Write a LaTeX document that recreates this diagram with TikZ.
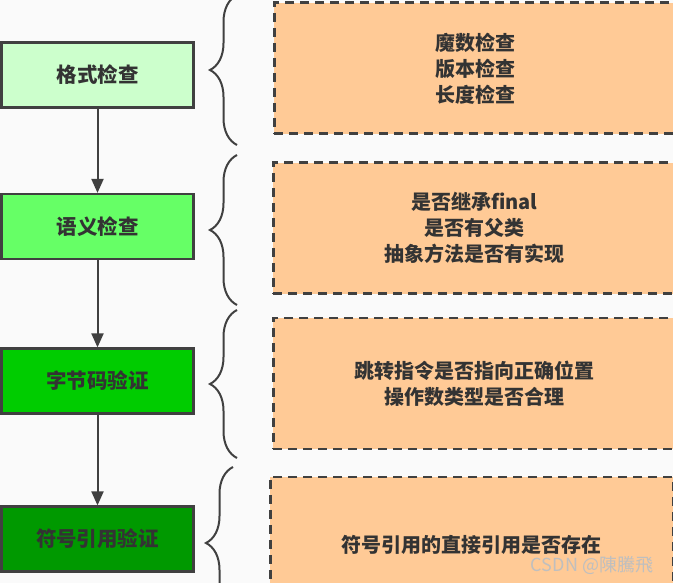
\documentclass[tikz,border=0pt]{standalone}
\usepackage{fontspec}
\setmainfont{Noto Sans CJK SC}
\usetikzlibrary{arrows.meta, decorations.pathreplacing}
\definecolor{linegray}{HTML}{404040}
\definecolor{textgray}{HTML}{333333}
\definecolor{notefill}{HTML}{FFCA96}
\definecolor{bgpaper}{HTML}{FAFAFA}
\definecolor{greenA}{HTML}{CCFFCC}
\definecolor{greenB}{HTML}{66FF66}
\definecolor{greenC}{HTML}{00CC00}
\definecolor{greenD}{HTML}{009900}

\begin{document}
\begin{tikzpicture}[x=1pt, y=-1pt,
    stage/.style={draw=linegray, line width=2.2pt, minimum width=192pt, minimum height=65pt,
        text=textgray, font=\bfseries\fontsize{20.5}{24}\selectfont},
    check/.style={draw=linegray, line width=2.6pt, dash pattern=on 9pt off 6pt, fill=notefill,
        minimum width=402pt, minimum height=131pt, anchor=north west, align=center,
        text=textgray, font=\bfseries\fontsize{20}{26}\selectfont},
    flow/.style={draw=linegray, line width=2pt, -{Triangle[length=14pt, width=12pt]}},
    curly/.style={draw=linegray, line width=2pt, decorate, decoration={brace, amplitude=27pt}}]
        \clip (0,0) rectangle (673,583);
        \fill[bgpaper] (0,0) rectangle (673,583);

        \node[stage, fill=greenA] (format) at (97.5, 75) {格式检查};
        \node[stage, fill=greenB] (semantic) at (97.5, 226.5) {语义检查};
        \node[stage, fill=greenC] (bytecode) at (97.5, 381) {字节码验证};
        \node[stage, fill=greenD] (symref) at (97.5, 539) {符号引用验证};

        \draw[flow] (format) -- (semantic);
        \draw[flow] (semantic) -- (bytecode);
        \draw[flow] (bytecode) -- (symref);

        \node[check] (formatnote) at (273, 1.5) {魔数检查\\版本检查\\长度检查};
        \node[check] (semanticnote) at (272, 161.5) {是否继承final\\是否有父类\\抽象方法是否有实现};
        \node[check] (bytecodenote) at (272, 316.5) {跳转指令是否指向正确位置\\操作数类型是否合理};
        \node[check, minimum width=403pt, minimum height=136pt] (symrefnote) at (269, 475.5) {符号引用的直接引用是否存在};

        \draw[curly] (237, 145) -- (237, -5);
        \draw[curly] (237, 305) -- (237, 155);
        \draw[curly] (237, 458) -- (237, 310);
        \draw[curly] (233, 619) -- (233, 467);

        \node[text=gray!50, font=\fontsize{18}{20}\selectfont, inner sep=0pt] (mark) at (592, 565) {CSDN @陳騰飛};
    \end{tikzpicture}
\end{document}
